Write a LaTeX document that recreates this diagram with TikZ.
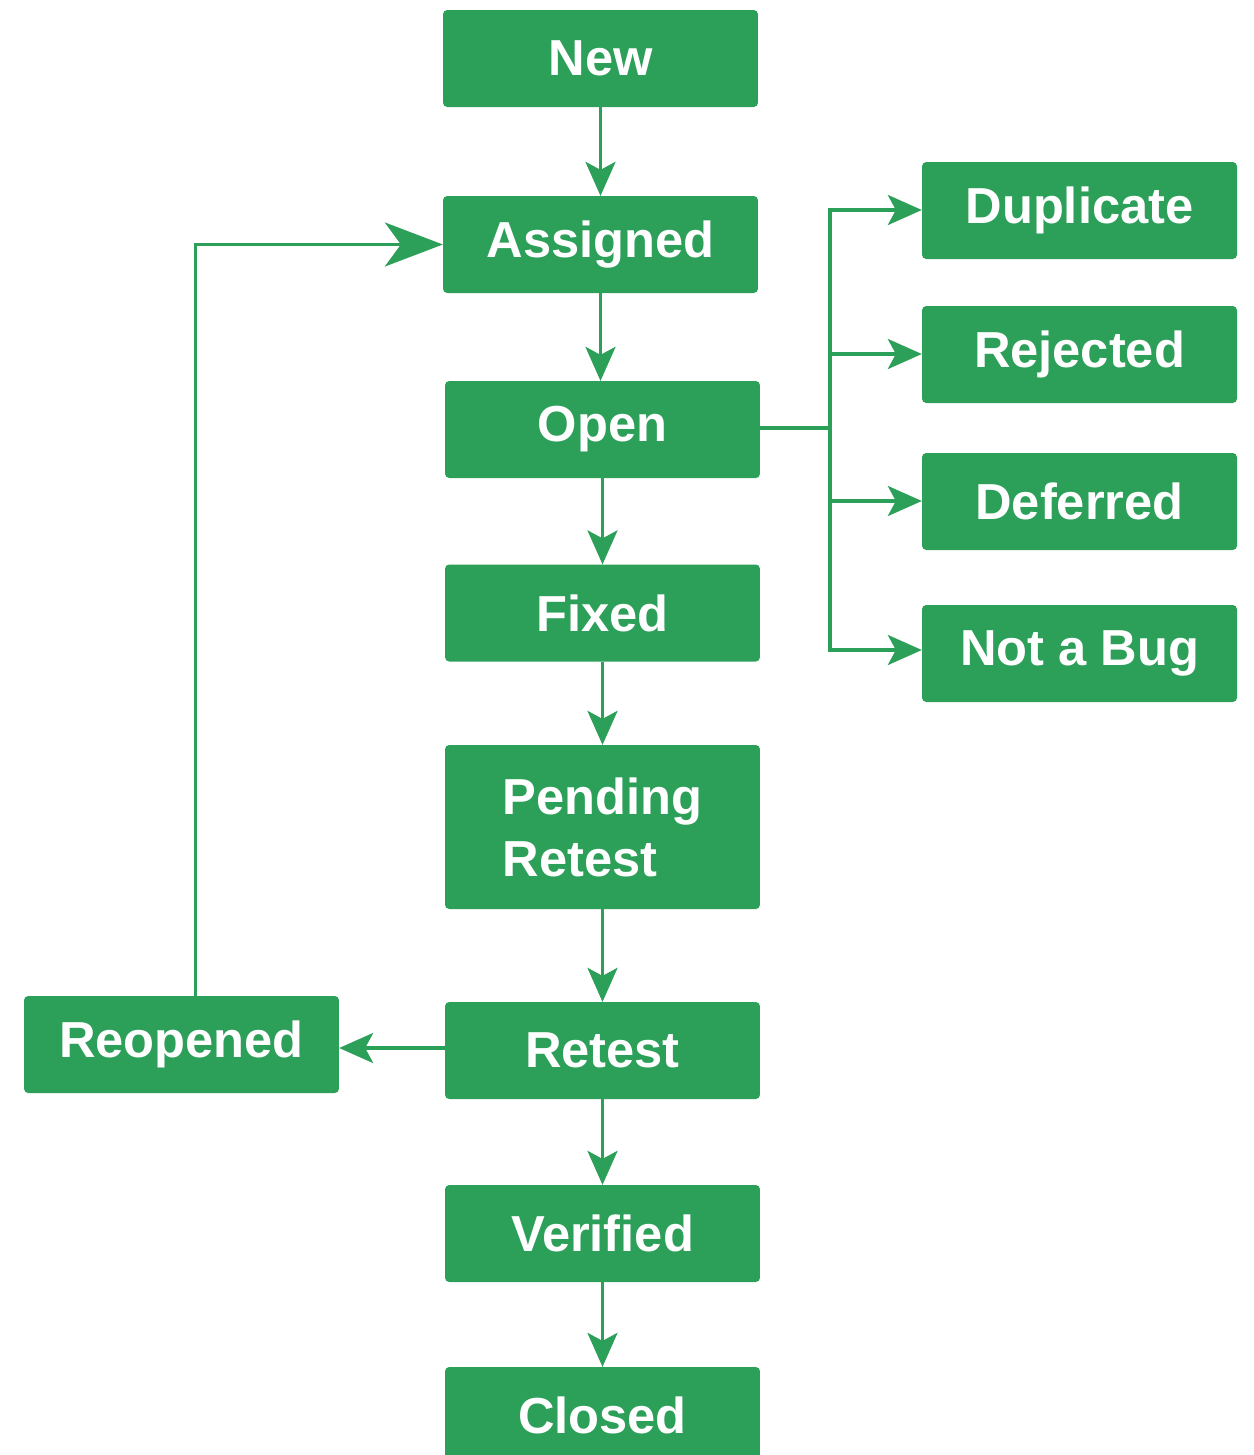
\documentclass[tikz,border=0pt]{standalone}
\usepackage{fontspec}
\setmainfont{Liberation Sans}
\usetikzlibrary{arrows.meta,calc}
\definecolor{bg}{RGB}{44,159,89}
\begin{document}
\begin{tikzpicture}[x=0.05cm,y=-0.05cm,
  box/.style={draw=none,fill=bg,rounded corners=6,minimum width=15.75cm,minimum height=4.85cm,
    text=white,font=\fontsize{72}{88}\selectfont\bfseries,inner sep=0pt},
  conn/.style={draw=bg,line width=5pt},
  arr/.style={conn,-{Stealth[length=1.7cm,width=1.5cm,inset=0.4cm]}},
  bigarr/.style={conn,-{Stealth[length=2.9cm,width=2.2cm,inset=0.8cm]}}]
\useasboundingbox (0,0) rectangle (1254,1455);
\node[box] (new) at (600.5,58.5) {New};
\node[box] (assigned) at (600.5,244.5) {Assigned};
\node[box] (open) at (602.5,429.5) {Open};
\node[box] (fixed) at (602.5,613) {Fixed};
\node[box,minimum height=8.2cm,align=left] (pending) at (602.5,827) {Pending\\Retest};
\node[box] (retest) at (602.5,1050.5) {Retest};
\node[box] (verified) at (602.5,1233.5) {Verified};
\node[box] (closed) at (602.5,1415.5) {Closed};
\node[box] (reopened) at (181.5,1044.5) {Reopened};
\node[box] (dup) at (1079.5,210.5) {Duplicate};
\node[box] (rej) at (1079.5,354.5) {Rejected};
\node[box] (def) at (1079.5,501.5) {Deferred};
\node[box] (nab) at (1079.5,653.5) {Not a Bug};
\draw[arr] (new) -- (assigned);
\draw[arr] (assigned) -- (assigned |- open.north);
\draw[arr] (open) -- (fixed);
\draw[arr] (fixed) -- (pending);
\draw[arr] (pending) -- (retest);
\draw[arr] (retest) -- (verified);
\draw[arr] (verified) -- (closed);
\coordinate (rl) at (602.5,1048);
\draw[arr] (retest.west |- rl) -- (reopened.east |- rl);
\coordinate (up) at ($(reopened.north)+(14,0)$);
\draw[bigarr] (up) |- (assigned.west);
\coordinate (bus) at (830,428);
\draw[conn] (open.east |- bus) -- (bus);
\coordinate (b1) at (830,210);
\coordinate (b2) at (830,354);
\coordinate (b3) at (830,501);
\coordinate (b4) at (830,650);
\draw[arr] (bus) -- (b1) -- (dup.west |- b1);
\draw[arr] (bus) -- (b4) -- (nab.west |- b4);
\draw[arr] (b2) -- (rej.west |- b2);
\draw[arr] (b3) -- (def.west |- b3);
\end{tikzpicture}
\end{document}
